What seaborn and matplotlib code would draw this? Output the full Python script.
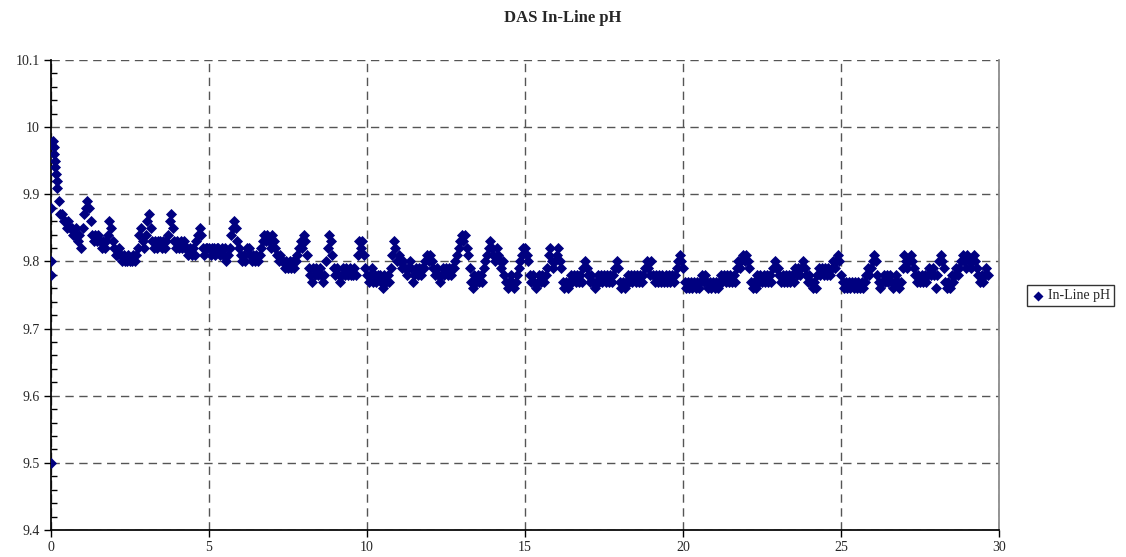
import numpy as np
import pandas as pd
import seaborn as sns
import matplotlib.pyplot as plt
from matplotlib.ticker import MultipleLocator

# first readings (x in hours, pH)
start_x = [0, 0, 0, 0, 0.06, 0.08, 0.10, 0.12, 0.14, 0.16, 0.18, 0.20]
start_ph = [9.50, 9.78, 9.80, 9.88, 9.98, 9.97, 9.96, 9.95, 9.94, 9.93, 9.92, 9.91]

# readings every 0.05 h, one row per hour, value = pH*100 - 900
# row 0 starts at 0.25, the others at the whole hour
rows = [
    [89, 87, 87, 86, 86, 85, 86, 85, 85, 84, 84, 85, 83, 84, 82],
    [85, 87, 88, 89, 88, 86, 84, 83, 84, 83, 84, 83, 82, 83, 82, 83, 84, 86, 85, 83],
    [82, 81, 81, 82, 81, 80, 81, 80, 80, 81, 80, 80, 81, 80, 81, 82, 84, 85, 83, 82],
    [84, 86, 87, 85, 83, 82, 83, 82, 83, 83, 82, 83, 82, 83, 84, 86, 87, 85, 83, 82],
    [83, 82, 83, 82, 83, 82, 82, 81, 82, 81, 82, 81, 83, 84, 85, 84, 82, 81, 82, 82],
    [82, 81, 82, 82, 81, 82, 82, 81, 82, 81, 82, 80, 81, 82, 84, 85, 86, 85, 83, 82],
    [81, 80, 81, 80, 82, 82, 81, 80, 81, 80, 81, 80, 81, 82, 83, 84, 83, 84, 83, 82],
    [84, 83, 82, 81, 80, 81, 80, 80, 79, 80, 79, 80, 79, 80, 79, 80, 81, 82, 83, 82],
    [84, 83, 81, 79, 78, 77, 79, 78, 79, 78, 79, 78, 77, 78, 80, 82, 84, 83, 81, 79],
    [78, 79, 78, 77, 78, 79, 78, 79, 78, 79, 78, 78, 79, 78, 81, 83, 82, 83, 81, 79],
    [78, 77, 78, 79, 77, 78, 77, 78, 78, 77, 76, 78, 77, 78, 77, 79, 81, 83, 82, 80],
    [81, 80, 79, 80, 79, 78, 79, 80, 79, 77, 78, 79, 78, 79, 78, 79, 79, 80, 81, 80],
    [81, 80, 79, 78, 79, 78, 77, 78, 79, 78, 79, 78, 79, 78, 79, 79, 80, 81, 82, 83],
    [84, 83, 84, 82, 81, 79, 77, 76, 78, 77, 78, 77, 78, 77, 79, 80, 81, 82, 83, 82],
    [81, 80, 82, 81, 80, 79, 80, 78, 77, 76, 77, 78, 77, 76, 77, 78, 79, 80, 81, 82],
    [82, 81, 80, 78, 77, 78, 77, 76, 77, 78, 77, 78, 77, 78, 79, 81, 82, 80, 79, 80],
    [81, 82, 80, 79, 77, 76, 77, 76, 77, 78, 77, 78, 77, 78, 77, 78, 77, 79, 80, 79],
    [78, 77, 78, 77, 76, 77, 78, 77, 78, 77, 78, 77, 78, 77, 78, 77, 78, 79, 80, 79],
    [77, 76, 77, 76, 77, 78, 77, 78, 77, 78, 77, 78, 77, 78, 77, 78, 79, 80, 79, 78],
    [80, 78, 77, 78, 77, 78, 77, 78, 77, 78, 77, 78, 77, 78, 77, 78, 79, 80, 81, 80],
    [79, 77, 76, 77, 76, 77, 76, 77, 76, 77, 76, 77, 78, 77, 78, 77, 76, 77, 76, 77],
    [76, 77, 76, 77, 78, 77, 78, 77, 78, 77, 78, 77, 78, 77, 79, 80, 79, 80, 81, 80],
    [81, 80, 79, 77, 76, 77, 76, 78, 77, 78, 77, 78, 77, 78, 77, 78, 77, 79, 80, 79],
    [79, 78, 77, 78, 77, 78, 77, 78, 77, 78, 77, 79, 78, 79, 78, 79, 80, 79, 78, 77],
    [78, 77, 76, 77, 76, 78, 79, 78, 79, 78, 79, 78, 79, 78, 79, 80, 79, 80, 81, 80],
    [78, 77, 76, 77, 76, 77, 76, 77, 76, 77, 76, 77, 76, 77, 76, 77, 78, 79, 78, 79],
    [80, 81, 80, 78, 77, 76, 77, 78, 77, 78, 77, 78, 77, 76, 77, 78, 77, 76, 77, 79],
    [81, 80, 79, 80, 81, 80, 79, 78, 77, 78, 77, 78, 77, 78, 77, 78, 79, 78, 79, 78],
    [76, 78, 80, 81, 80, 79, 77, 76, 77, 76, 78, 77, 78, 79, 78, 79, 80, 81, 80, 79],
    [81, 80, 79, 80, 81, 80, 79, 78, 77, 78, 77, 78, 79, 78],
]

times = list(start_x)
ph = list(start_ph)
for i, row in enumerate(rows):
    t0 = 0.25 if i == 0 else i
    times += list(t0 + 0.05 * np.arange(len(row)))
    ph += [9 + v / 100 for v in row]

df = pd.DataFrame({"time": times, "pH": ph})

sns.set_theme(style="white")
plt.rcParams['font.family'] = ['Liberation Serif', 'DejaVu Serif']

fig = plt.figure(figsize=(11.26, 5.57), dpi=100)
ax = fig.add_axes([0.0453, 0.0485, 0.8419, 0.8437])

sns.scatterplot(data=df, x="time", y="pH", marker="D", s=32, color="#000080",
                linewidth=0, label="In-Line pH", ax=ax, zorder=3)

ax.set_xlim(0, 30)
ax.set_ylim(9.4, 10.1)
ax.xaxis.set_major_locator(MultipleLocator(5))
ax.yaxis.set_major_locator(MultipleLocator(0.1))
ax.yaxis.set_minor_locator(MultipleLocator(0.02))
ax.set_yticklabels([f"{v:g}" for v in ax.get_yticks()])
ax.tick_params(axis="both", which="major", direction="out", length=5, width=1,
               color="black", labelsize=10, pad=3, left=True, bottom=True)
ax.tick_params(axis="y", which="minor", direction="in", length=4, width=1,
               color="black", left=True)
ax.grid(True, which="major", color="#555555", linestyle=(0, (6, 4)), linewidth=1)
ax.set_axisbelow(True)

ax.spines["top"].set_visible(False)
ax.spines["right"].set_color("#888888")
ax.spines["left"].set_color("black")
ax.spines["bottom"].set_color("black")
ax.set_xlabel("")
ax.set_ylabel("")

handles, labels = ax.get_legend_handles_labels()
ax.get_legend().remove()
leg = fig.legend(handles, labels, loc="center left", bbox_to_anchor=(0.906, 0.469),
                 frameon=True, fancybox=False, edgecolor="black", fontsize=10,
                 handletextpad=0.2, handlelength=1.0, borderpad=0.3, markerscale=0.9)
leg.get_frame().set_linewidth(1)

fig.suptitle("DAS In-Line pH", x=0.5, y=0.968, va="center", fontsize=12, fontweight="bold")

fig.savefig("out.png", dpi=100)
